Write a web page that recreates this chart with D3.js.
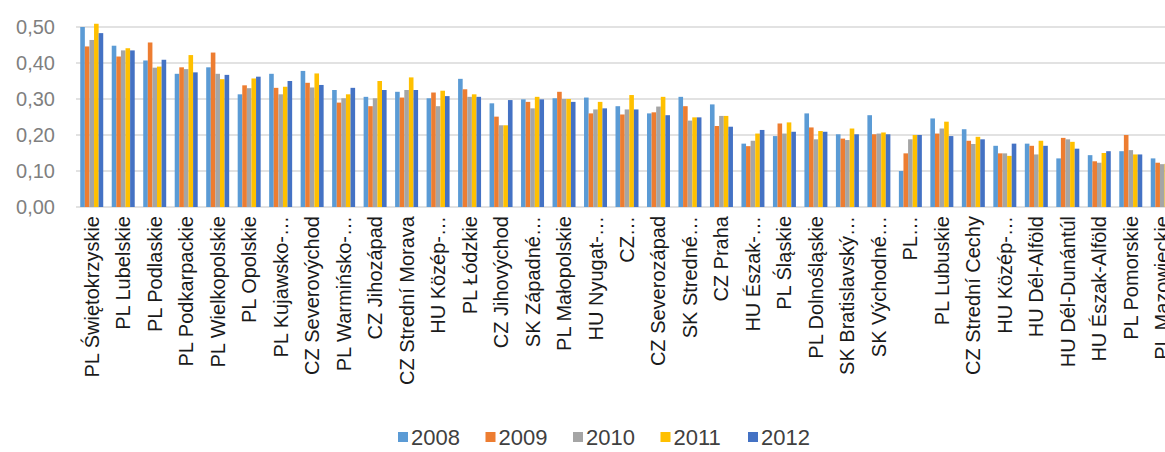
<!DOCTYPE html>
<html>
<head>
<meta charset="utf-8">
<script src="https://cdn.jsdelivr.net/npm/d3@7"></script>
<style>
  body { margin: 0; background: #fff; }
  #chart { display: block; }
</style>
</head>
<body>
<svg id="chart"></svg>
<script>
// regions, sorted as in the source chart
const categories = [
  "PL Świętokrzyskie", "PL Lubelskie", "PL Podlaskie", "PL Podkarpackie", "PL Wielkopolskie",
  "PL Opolskie", "PL Kujawsko-…", "CZ Severovýchod", "PL Warmińsko-…", "CZ Jihozápad",
  "CZ Strední Morava", "HU Közép-…", "PL Łódzkie", "CZ Jihovýchod", "SK Západné…",
  "PL Małopolskie", "HU Nyugat-…", "CZ…", "CZ Severozápad", "SK Stredné…",
  "CZ Praha", "HU Észak-…", "PL Śląskie", "PL Dolnośląskie", "SK Bratislavský…",
  "SK Východné…", "PL…", "PL Lubuskie", "CZ Strední Cechy", "HU Közép-…",
  "HU Dél-Alföld", "HU Dél-Dunántúl", "HU Észak-Alföld", "PL Pomorskie", "PL Mazowieckie"
];

const years = ["2008", "2009", "2010", "2011", "2012"];

const v2008 = [0.500, 0.448, 0.407, 0.370, 0.388, 0.313, 0.370, 0.378, 0.325, 0.306,
               0.320, 0.302, 0.356, 0.288, 0.299, 0.302, 0.304, 0.280, 0.260, 0.306,
               0.285, 0.176, 0.197, 0.260, 0.202, 0.255, 0.100, 0.246, 0.216, 0.170,
               0.176, 0.135, 0.144, 0.155, 0.135];
const v2009 = [0.446, 0.418, 0.457, 0.388, 0.429, 0.338, 0.331, 0.345, 0.290, 0.280,
               0.304, 0.318, 0.327, 0.251, 0.292, 0.320, 0.260, 0.257, 0.263, 0.280,
               0.225, 0.169, 0.232, 0.221, 0.190, 0.202, 0.149, 0.204, 0.184, 0.149,
               0.170, 0.192, 0.127, 0.200, 0.123];
const v2010 = [0.464, 0.435, 0.387, 0.383, 0.370, 0.330, 0.313, 0.332, 0.302, 0.302,
               0.325, 0.280, 0.306, 0.227, 0.274, 0.300, 0.271, 0.271, 0.279, 0.240,
               0.253, 0.184, 0.204, 0.188, 0.186, 0.204, 0.188, 0.218, 0.175, 0.149,
               0.146, 0.188, 0.123, 0.158, 0.119];
const v2011 = [0.509, 0.441, 0.390, 0.422, 0.355, 0.357, 0.334, 0.371, 0.313, 0.350,
               0.360, 0.323, 0.313, 0.227, 0.306, 0.300, 0.292, 0.311, 0.306, 0.249,
               0.253, 0.204, 0.235, 0.211, 0.218, 0.207, 0.200, 0.237, 0.195, 0.142,
               0.184, 0.181, 0.150, 0.146, 0.120];
const v2012 = [0.483, 0.435, 0.409, 0.374, 0.367, 0.362, 0.350, 0.339, 0.331, 0.325,
               0.325, 0.308, 0.306, 0.297, 0.299, 0.292, 0.274, 0.271, 0.255, 0.249,
               0.223, 0.214, 0.209, 0.209, 0.202, 0.202, 0.200, 0.197, 0.188, 0.176,
               0.170, 0.162, 0.155, 0.146, 0.120];

const yTicks = [0, 0.1, 0.2, 0.3, 0.4, 0.5];
const colors = ["#5B9BD5", "#ED7D31", "#A5A5A5", "#FFC000", "#4472C4"];

document.addEventListener('DOMContentLoaded', function() {
  const W = 1165, H = 452;
  const plot = { left: 76, right: 1178, top: 27, bottom: 207 };

  const series = [v2008, v2009, v2010, v2011, v2012];
  const rows = categories.map((c, i) => ({ cat: i, vals: series.map(s => s[i]) }));

  const svg = d3.select("#chart")
      .attr("width", W)
      .attr("height", H);

  const x = d3.scaleBand()
      .domain(d3.range(categories.length))
      .range([plot.left, plot.right])
      .paddingInner(0.27)
      .paddingOuter(0.135);

  const xs = d3.scaleBand()
      .domain(years)
      .range([0, x.bandwidth()]);

  const y = d3.scaleLinear()
      .domain([0, 0.5])
      .range([plot.bottom, plot.top]);

  // gridlines
  svg.append("g")
    .selectAll("line")
    .data(yTicks)
    .enter().append("line")
      .attr("x1", plot.left)
      .attr("x2", W)
      .attr("y1", d => y(d))
      .attr("y2", d => y(d))
      .attr("stroke", "#d9d9d9")
      .attr("stroke-width", 1.5);

  // y axis labels
  const fmt = d3.format(".2f");
  svg.append("g")
    .selectAll("text")
    .data(yTicks)
    .enter().append("text")
      .attr("x", 55)
      .attr("y", d => y(d))
      .attr("dy", "0.35em")
      .attr("text-anchor", "end")
      .attr("font-family", "Liberation Sans, Arial, sans-serif")
      .attr("font-size", 20)
      .attr("fill", "#7f7f7f")
      .text(d => fmt(d).replace(".", ","));

  // bars
  const groups = svg.append("g")
    .selectAll("g")
    .data(rows)
    .enter().append("g")
      .attr("transform", d => "translate(" + x(d.cat) + ",0)");

  groups.selectAll("rect")
    .data(d => d.vals.map((v, k) => ({ year: years[k], v: v, k: k })))
    .enter().append("rect")
      .attr("x", d => xs(d.year))
      .attr("width", xs.bandwidth())
      .attr("y", d => y(d.v))
      .attr("height", d => y(0) - y(d.v))
      .attr("fill", d => colors[d.k]);

  // x axis labels, rotated
  svg.append("g")
    .selectAll("text")
    .data(categories)
    .enter().append("text")
      .attr("transform", (d, i) => "translate(" + (x(i) + x.bandwidth() / 2) + "," + 216 + ") rotate(-90)")
      .attr("dy", "0.35em")
      .attr("text-anchor", "end")
      .attr("font-family", "Liberation Sans, Arial, sans-serif")
      .attr("font-size", 20)
      .attr("fill", "#1a1a1a")
      .text(d => d);

  // legend
  const legend = svg.append("g")
      .attr("transform", "translate(398,437)");

  const item = legend.selectAll("g")
    .data(years)
    .enter().append("g")
      .attr("transform", (d, i) => "translate(" + (i * 87.5) + ",0)");

  item.append("rect")
      .attr("x", 0)
      .attr("y", -5)
      .attr("width", 10)
      .attr("height", 10)
      .attr("fill", (d, i) => colors[i]);

  item.append("text")
      .attr("x", 13)
      .attr("y", 0)
      .attr("dy", "0.35em")
      .attr("font-family", "Liberation Sans, Arial, sans-serif")
      .attr("font-size", 22)
      .attr("fill", "#404040")
      .text(d => d);
});
</script>
</body>
</html>
